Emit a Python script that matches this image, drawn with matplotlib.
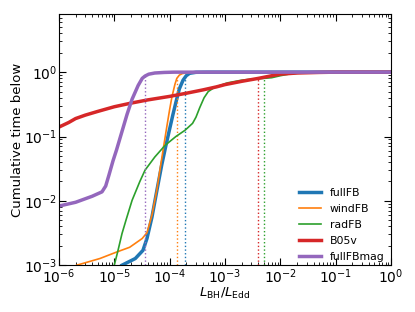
import numpy as np
import matplotlib
matplotlib.use('Agg')
import matplotlib.pyplot as plt

# curves (x = L_BH/L_Edd, y = cumulative time below)
full_x = [1.38e-5, 2.4e-5, 3.3e-5, 3.9e-5, 4.8e-5, 5.9e-5, 7.2e-5, 8.5e-5, 1.0e-4, 1.15e-4,
          1.3e-4, 1.5e-4, 1.75e-4, 2.0e-4, 2.3e-4, 3.0e-4, 5.0e-4, 1.0]
full_y = [1.0e-3, 1.27e-3, 1.7e-3, 2.6e-3, 5.6e-3, 1.46e-2, 3.6e-2, 7.0e-2, 0.13, 0.22,
          0.34, 0.55, 0.75, 0.88, 0.96, 0.995, 1.0, 1.0]

wind_x = [1.0e-6, 2.1e-6, 5.5e-6, 1.1e-5, 1.9e-5, 3.2e-5, 3.9e-5, 4.8e-5, 5.9e-5, 6.8e-5,
          7.8e-5, 9.0e-5, 1.0e-4, 1.1e-4, 1.25e-4, 1.35e-4, 1.5e-4, 1.7e-4, 2.2e-4, 4.0e-4, 1.0]
wind_y = [7.0e-4, 1.0e-3, 1.27e-3, 1.6e-3, 1.9e-3, 2.6e-3, 3.2e-3, 6.0e-3, 1.5e-2, 3.3e-2,
          7.0e-2, 0.15, 0.26, 0.41, 0.65, 0.8, 0.9, 0.95, 0.99, 1.0, 1.0]

rad_x = [1.0e-5, 1.15e-5, 1.38e-5, 1.65e-5, 2.1e-5, 2.9e-5, 3.6e-5, 5.4e-5, 8.3e-5, 1.3e-4,
         1.9e-4, 2.6e-4, 3.0e-4, 3.5e-4, 4.2e-4, 5.0e-4, 6.5e-4, 1.1e-3, 2.0e-3, 3.0e-3,
         5.0e-3, 7.0e-3, 1.0e-2, 1.5e-2, 3.0e-2, 1.0]
rad_y = [1.0e-3, 1.6e-3, 3.1e-3, 5.2e-3, 1.02e-2, 2.0e-2, 3.0e-2, 4.8e-2, 7.3e-2, 0.1,
         0.125, 0.16, 0.2, 0.28, 0.4, 0.5, 0.58, 0.68, 0.75, 0.78,
         0.8, 0.82, 0.88, 0.94, 0.99, 1.0]

b05_x = [1.0e-6, 1.5e-6, 2.0e-6, 3.0e-6, 5.0e-6, 1.0e-5, 2.0e-5, 4.0e-5, 1.0e-4, 2.0e-4,
         4.0e-4, 7.0e-4, 1.0e-3, 2.0e-3, 4.0e-3, 7.0e-3, 1.0e-2, 2.0e-2, 5.0e-2, 1.0e-1, 1.0]
b05_y = [0.14, 0.165, 0.19, 0.215, 0.245, 0.29, 0.33, 0.37, 0.42, 0.47,
         0.53, 0.59, 0.64, 0.72, 0.8, 0.88, 0.93, 0.97, 0.99, 1.0, 1.0]

mag_x = [1.0e-6, 2.0e-6, 4.0e-6, 6.0e-6, 7.0e-6, 8.0e-6, 9.5e-6, 1.1e-5, 1.4e-5, 1.7e-5,
         2.1e-5, 2.7e-5, 3.2e-5, 3.6e-5, 4.2e-5, 5.4e-5, 8.0e-5, 1.2e-4, 1.0]
mag_y = [8.3e-3, 9.5e-3, 1.18e-2, 1.38e-2, 1.7e-2, 2.5e-2, 4.2e-2, 6.2e-2, 0.125, 0.22,
         0.38, 0.62, 0.8, 0.87, 0.93, 0.97, 0.99, 1.0, 1.0]

names = ['fullFB', 'windFB', 'radFB', 'B05v', 'fullFBmag']
colors = ['#1f77b4', '#ff7f0e', '#2ca02c', '#d62728', '#9467bd']
widths = [2.5, 1.2, 1.2, 2.5, 2.5]

# dotted markers (x position, height)
mark_x = [1.9e-4, 1.34e-4, 5.1e-3, 4.0e-3, 3.6e-5]
mark_y = [0.9, 0.8, 0.8, 0.8, 0.87]

xs = [full_x, wind_x, rad_x, b05_x, mag_x]
ys = [full_y, wind_y, rad_y, b05_y, mag_y]

fig = plt.figure(figsize=(4.15, 3.12), dpi=100)
ax = fig.add_axes([0.142, 0.15, 0.8, 0.805])

for i in range(len(names)):
    ax.plot(xs[i], ys[i], color=colors[i], lw=widths[i], label=names[i])
    ax.vlines(mark_x[i], 1e-3, mark_y[i], color=colors[i], lw=1.0, linestyles=':')

ax.set_xscale('log')
ax.set_yscale('log')
ax.set_xlim(1e-6, 1.0)
ax.set_ylim(1e-3, 8.0)
ax.set_xlabel(r'$L_{\rm BH}/L_{\rm Edd}$', fontsize=9.5, labelpad=0)
ax.set_ylabel('Cumulative time below', fontsize=9.5, labelpad=0)
ax.tick_params(which='both', direction='in', top=True, right=True, labelsize=10, pad=1.5)
ax.tick_params(which='major', length=5)
ax.tick_params(which='minor', length=2.5)
ax.set_xticks([1e-6, 1e-5, 1e-4, 1e-3, 1e-2, 1e-1, 1e0])

ax.legend(loc='lower right', frameon=False, fontsize=7.8, handlelength=2.0,
          handletextpad=0.85, bbox_to_anchor=(1.01, -0.025), labelspacing=0.55)

fig.savefig('out.png', dpi=100)
